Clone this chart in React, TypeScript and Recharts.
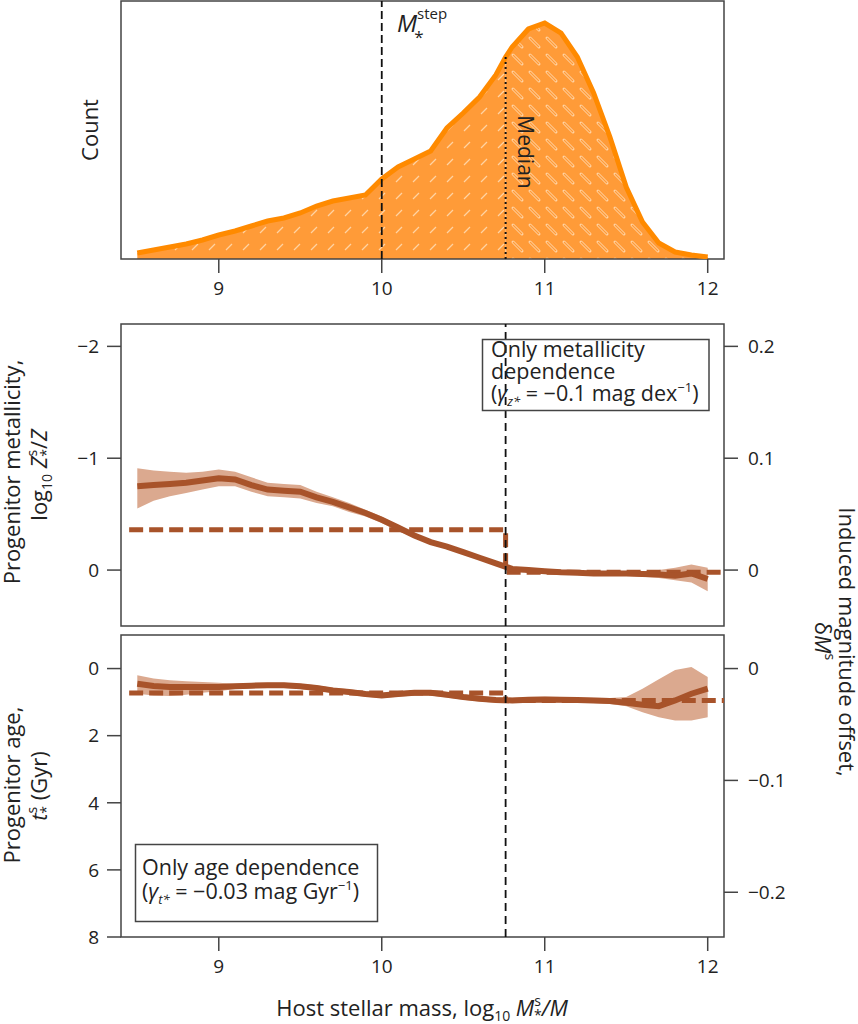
import React from 'react';
import { ComposedChart, Area, Line, XAxis, YAxis, ReferenceLine, ReferenceArea } from 'recharts';

// top panel: host mass distribution (count, arbitrary units)
const histMass = [8.5, 8.6, 8.7, 8.8, 8.9, 9.0, 9.1, 9.2, 9.3, 9.4, 9.5, 9.6, 9.7, 9.8, 9.9, 10.0, 10.1, 10.2, 10.3, 10.4, 10.5, 10.6, 10.7, 10.76, 10.8, 10.9, 11.0, 11.1, 11.2, 11.3, 11.4, 11.5, 11.6, 11.7, 11.8, 11.9, 12.0];
const histCount = [6, 9, 12, 15, 19, 24, 28, 33, 38, 41, 46, 53, 58, 61, 64, 80, 92, 100, 108, 131, 146, 162, 184, 202, 212, 230, 236, 226, 202, 166, 122, 72, 37, 16, 7, 4, 2];
const stepMass = 10;
const medianMass = 10.76;

// middle + bottom panels
const mass = [8.5, 8.6, 8.7, 8.8, 8.9, 9.0, 9.1, 9.2, 9.3, 9.4, 9.5, 9.6, 9.7, 9.8, 9.9, 10.0, 10.1, 10.2, 10.3, 10.4, 10.5, 10.6, 10.7, 10.8, 10.9, 11.0, 11.1, 11.2, 11.3, 11.4, 11.5, 11.6, 11.7, 11.8, 11.9, 12.0];
const metalMedian = [-0.75, -0.76, -0.77, -0.78, -0.8, -0.82, -0.81, -0.76, -0.72, -0.71, -0.7, -0.65, -0.61, -0.56, -0.51, -0.45, -0.38, -0.31, -0.25, -0.21, -0.16, -0.11, -0.06, -0.01, 0.0, 0.01, 0.02, 0.025, 0.03, 0.03, 0.03, 0.035, 0.04, 0.05, 0.03, 0.08];
const metalLow = [-0.91, -0.89, -0.88, -0.87, -0.88, -0.9, -0.88, -0.83, -0.78, -0.77, -0.76, -0.7, -0.65, -0.6, -0.54, -0.48, -0.4, -0.33, -0.27, -0.23, -0.18, -0.13, -0.08, -0.03, -0.02, -0.01, 0.0, 0.005, 0.01, 0.01, 0.01, 0.01, 0.0, -0.02, -0.05, -0.02];
const metalHigh = [-0.55, -0.62, -0.66, -0.69, -0.72, -0.75, -0.75, -0.7, -0.66, -0.65, -0.64, -0.6, -0.57, -0.52, -0.48, -0.42, -0.35, -0.29, -0.23, -0.19, -0.14, -0.09, -0.04, 0.01, 0.02, 0.03, 0.04, 0.045, 0.05, 0.05, 0.05, 0.06, 0.07, 0.09, 0.11, 0.19];
const ageMedian = [0.45, 0.52, 0.55, 0.55, 0.55, 0.55, 0.53, 0.51, 0.5, 0.5, 0.53, 0.58, 0.65, 0.7, 0.76, 0.8, 0.76, 0.72, 0.72, 0.78, 0.85, 0.9, 0.94, 0.95, 0.93, 0.92, 0.93, 0.94, 0.95, 0.97, 1.02, 1.08, 1.12, 0.95, 0.75, 0.6];
const ageLow = [0.2, 0.3, 0.35, 0.38, 0.4, 0.42, 0.45, 0.43, 0.42, 0.42, 0.45, 0.5, 0.57, 0.62, 0.68, 0.72, 0.68, 0.64, 0.64, 0.7, 0.77, 0.82, 0.86, 0.87, 0.85, 0.84, 0.85, 0.86, 0.87, 0.88, 0.85, 0.6, 0.32, 0.04, -0.05, 0.25];
const ageHigh = [0.75, 0.8, 0.82, 0.78, 0.72, 0.68, 0.61, 0.59, 0.58, 0.58, 0.61, 0.66, 0.73, 0.78, 0.84, 0.88, 0.84, 0.8, 0.8, 0.86, 0.93, 0.98, 1.02, 1.03, 1.01, 1.0, 1.01, 1.02, 1.03, 1.06, 1.12, 1.3, 1.45, 1.55, 1.55, 1.45];

// step model (dashed)
const stepX = [8.45, 10.76, 10.76, 12.1];
const metalStepY = [-0.36, -0.36, 0.02, 0.02];
const ageStepY = [0.73, 0.73, 0.95, 0.95];

const massTicks = [9, 10, 11, 12];
const metalTicks = [-2, -1, 0];
const metalMagTicks = [0, 0.1, 0.2];
const ageTicks = [0, 2, 4, 6, 8];
const ageMagTicks = [0, -0.1, -0.2];

const histData = histMass.map((x, i) => ({
  x,
  count: histCount[i],
  left: x <= medianMass ? histCount[i] : null,
  right: x >= medianMass ? histCount[i] : null,
}));
const metalData = mass.map((x, i) => ({ x, metal: metalMedian[i], band: [metalLow[i], metalHigh[i]] }));
const ageData = mass.map((x, i) => ({ x, age: ageMedian[i], band: [ageLow[i], ageHigh[i]] }));
const metalStep = stepX.map((x, i) => ({ x, y: metalStepY[i] }));
const ageStep = stepX.map((x, i) => ({ x, y: ageStepY[i] }));

const BROWN = '#A8532A';
const BAND = '#DBA98F';
const AXIS = '#444';
const tickStyle = { fontSize: 19, fill: '#222' };
const fmt = (v: number) => String(v).replace('-', '\u2212');

export default function App() {
  return <div style={{ position: 'absolute', left: 0, top: 0, width: 858, height: 1024, background: '#fff', fontFamily: '"Open Sans", Lato, sans-serif' }}>
      <div style={{ position: 'absolute', left: 0, top: 0 }}>
        <ComposedChart width={858} height={300} data={histData} margin={{ top: 1, right: 134, bottom: 0, left: 121 }}>
          <defs>
            <pattern id="hatchL" width="17" height="17" patternUnits="userSpaceOnUse">
              <rect width="17" height="17" fill="#FF9B38" />
              <line x1="5" y1="12" x2="11" y2="6" stroke="#FFD3A3" strokeWidth="1.2" />
            </pattern>
            <pattern id="hatchR" width="17" height="17" patternUnits="userSpaceOnUse">
              <rect width="17" height="17" fill="#FF9B38" />
              <line x1="3" y1="4" x2="12" y2="13" stroke="#FFD3A3" strokeWidth="3" strokeLinecap="round" />
              <line x1="3" y1="4" x2="12" y2="13" stroke="#FF9B38" strokeWidth="1.2" />
            </pattern>
          </defs>
          <XAxis dataKey="x" type="number" domain={[8.4, 12.1]} ticks={massTicks} allowDataOverflow height={41} axisLine={false} tickSize={14} tickMargin={9} tick={tickStyle} tickLine={{ stroke: AXIS, strokeWidth: 1.5 }} />
          <YAxis hide domain={[0, 258]} allowDataOverflow />
          <Area dataKey="left" type="linear" fill="url(#hatchL)" fillOpacity={1} stroke="none" isAnimationActive={false} />
          <Area dataKey="right" type="linear" fill="url(#hatchR)" fillOpacity={1} stroke="none" isAnimationActive={false} />
          <Line dataKey="count" type="linear" stroke="#FF8A00" strokeWidth={5} dot={false} isAnimationActive={false} />
          <ReferenceLine x={stepMass} stroke="#111" strokeWidth={1.8} strokeDasharray="8 4" />
          <ReferenceLine segment={[{ x: medianMass, y: 0 }, { x: medianMass, y: 202 }]} stroke="#111" strokeWidth={2} strokeDasharray="2 3" />
          <ReferenceArea x1={8.4} x2={12.1} y1={0} y2={258} fill="none" stroke={AXIS} strokeWidth={1.5} />
        </ComposedChart>
      </div>

      <div style={{ position: 'absolute', left: 0, top: 310 }}>
        <ComposedChart width={858} height={330} data={metalData} margin={{ top: 14, right: 0, bottom: 14, left: 0 }}>
          <XAxis dataKey="x" type="number" domain={[8.4, 12.1]} ticks={massTicks} allowDataOverflow mirror height={14} axisLine={false} tickSize={9} tick={false} tickLine={{ stroke: AXIS, strokeWidth: 1.5 }} />
          <YAxis yAxisId="l" reversed domain={[-2.2, 0.5]} ticks={metalTicks} allowDataOverflow width={121} axisLine={false} tickSize={14} tickMargin={8} tick={tickStyle} tickFormatter={fmt} tickLine={{ stroke: AXIS, strokeWidth: 1.5 }} />
          <YAxis yAxisId="r" orientation="right" domain={[-0.05, 0.22]} ticks={metalMagTicks} allowDataOverflow width={134} axisLine={false} tickSize={14} tickMargin={10} tick={tickStyle} tickFormatter={fmt} tickLine={{ stroke: AXIS, strokeWidth: 1.5 }} />
          <Area yAxisId="l" dataKey="band" type="linear" fill={BAND} fillOpacity={1} stroke="none" isAnimationActive={false} />
          <Line yAxisId="l" data={metalStep} dataKey="y" type="linear" stroke={BROWN} strokeWidth={5} strokeDasharray="14 6" dot={false} isAnimationActive={false} />
          <Line yAxisId="l" dataKey="metal" type="linear" stroke={BROWN} strokeWidth={6} dot={false} isAnimationActive={false} />
          <ReferenceLine yAxisId="l" x={medianMass} stroke="#111" strokeWidth={1.8} strokeDasharray="8 5" />
          <ReferenceArea yAxisId="l" x1={8.4} x2={12.1} y1={-2.2} y2={0.5} fill="none" stroke={AXIS} strokeWidth={1.5} />
        </ComposedChart>
      </div>

      <div style={{ position: 'absolute', left: 0, top: 625 }}>
        <ComposedChart width={858} height={399} data={ageData} margin={{ top: 10, right: 0, bottom: 0, left: 0 }}>
          <XAxis dataKey="x" type="number" domain={[8.4, 12.1]} ticks={massTicks} allowDataOverflow height={87} axisLine={false} tickSize={14} tickMargin={9} tick={tickStyle} tickLine={{ stroke: AXIS, strokeWidth: 1.5 }} />
          <YAxis yAxisId="l" reversed domain={[-1, 8]} ticks={ageTicks} allowDataOverflow width={121} axisLine={false} tickSize={14} tickMargin={8} tick={tickStyle} tickFormatter={fmt} tickLine={{ stroke: AXIS, strokeWidth: 1.5 }} />
          <YAxis yAxisId="r" orientation="right" domain={[-0.24, 0.03]} ticks={ageMagTicks} allowDataOverflow width={134} axisLine={false} tickSize={14} tickMargin={10} tick={tickStyle} tickFormatter={fmt} tickLine={{ stroke: AXIS, strokeWidth: 1.5 }} />
          <Area yAxisId="l" dataKey="band" type="linear" fill={BAND} fillOpacity={1} stroke="none" isAnimationActive={false} />
          <Line yAxisId="l" data={ageStep} dataKey="y" type="linear" stroke={BROWN} strokeWidth={5} strokeDasharray="14 6" dot={false} isAnimationActive={false} />
          <Line yAxisId="l" dataKey="age" type="linear" stroke={BROWN} strokeWidth={6} dot={false} isAnimationActive={false} />
          <ReferenceLine yAxisId="l" x={medianMass} stroke="#111" strokeWidth={1.8} strokeDasharray="8 5" />
          <ReferenceArea yAxisId="l" x1={8.4} x2={12.1} y1={-1} y2={8} fill="none" stroke={AXIS} strokeWidth={1.5} />
        </ComposedChart>
      </div>

      <svg width={858} height={1024} style={{ position: 'absolute', left: 0, top: 0, pointerEvents: 'none' }} fill="#222">
        {/* top panel labels */}
        <text transform="translate(98,130) rotate(-90)" textAnchor="middle" fontSize={22}>Count</text>
        <text x={397} y={32} fontSize={24}>
          <tspan fontStyle="italic">M</tspan><tspan fontSize={15} dy={-13}>step</tspan><tspan fontSize={17} dx={-33} dy={24}>*</tspan>
        </text>
        <text transform="translate(518,152) rotate(90)" textAnchor="middle" fontSize={21}>Median</text>

        {/* middle panel */}
        <text transform="translate(20,472) rotate(-90)" textAnchor="middle" fontSize={22}>Progenitor metallicity,</text>
        <text transform="translate(47,475) rotate(-90)" textAnchor="middle" fontSize={22}>
          log<tspan fontSize={14} dy={5}>10</tspan><tspan dy={-5}> </tspan><tspan fontStyle="italic">Z</tspan><tspan fontSize={14} dy={-10}>s</tspan><tspan fontSize={14} dx={-7} dy={14}>*</tspan><tspan dy={-4}>/</tspan><tspan fontStyle="italic">Z</tspan>
        </text>
        <rect x={482.5} y={339.5} width={226.5} height={71} fill="none" stroke={AXIS} strokeWidth={1.5} />
        <text fontSize={21.5}>
          <tspan x={491} y={357}>Only metallicity</tspan>
          <tspan x={491} y={379}>dependence</tspan>
          <tspan x={491} y={401}>(</tspan><tspan fontStyle="italic">γ</tspan><tspan fontSize={13} dy={5} fontStyle="italic">z*</tspan><tspan dy={-5}> = −0.1 mag dex</tspan><tspan fontSize={13} dy={-9}>−1</tspan><tspan dy={9}>)</tspan>
        </text>

        {/* bottom panel */}
        <text transform="translate(20,785) rotate(-90)" textAnchor="middle" fontSize={22}>Progenitor age,</text>
        <text transform="translate(47,786) rotate(-90)" textAnchor="middle" fontSize={22}>
          <tspan fontStyle="italic">t</tspan><tspan fontSize={14} dy={-10}>s</tspan><tspan fontSize={14} dx={-7} dy={14}>*</tspan><tspan dy={-4}> (Gyr)</tspan>
        </text>
        <rect x={135.5} y={844.5} width={242} height={77} fill="none" stroke={AXIS} strokeWidth={1.5} />
        <text fontSize={21.5}>
          <tspan x={142} y={875}>Only age dependence</tspan>
          <tspan x={142} y={899}>(</tspan><tspan fontStyle="italic">γ</tspan><tspan fontSize={13} dy={5} fontStyle="italic">t*</tspan><tspan dy={-5}> = −0.03 mag Gyr</tspan><tspan fontSize={13} dy={-9}>−1</tspan><tspan dy={9}>)</tspan>
        </text>

        {/* right axis label */}
        <text transform="translate(839,642) rotate(90)" textAnchor="middle" fontSize={22}>Induced magnitude offset,</text>
        <text transform="translate(815,641) rotate(90)" textAnchor="middle" fontSize={22}>
          δ<tspan fontStyle="italic">M</tspan><tspan fontSize={14} dy={-10}>s</tspan>
        </text>

        {/* x axis label */}
        <text x={422} y={1016} textAnchor="middle" fontSize={22}>
          Host stellar mass, log<tspan fontSize={14} dy={5}>10</tspan><tspan dy={-5}> </tspan><tspan fontStyle="italic">M</tspan><tspan fontSize={14} dy={-10}>s</tspan><tspan fontSize={14} dx={-7} dy={14}>*</tspan><tspan dy={-4} fontStyle="italic">/M</tspan>
        </text>
      </svg>
    </div>;
}
